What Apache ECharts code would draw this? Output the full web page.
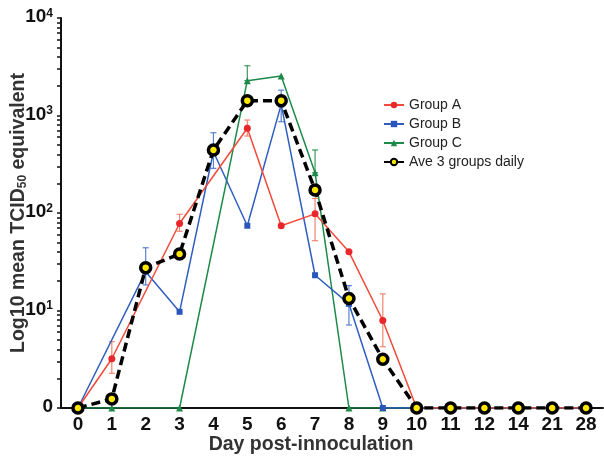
<!DOCTYPE html>
<html><head><meta charset="utf-8">
<script src="https://cdn.jsdelivr.net/npm/echarts@6/dist/echarts.min.js"></script>
<style>html,body{margin:0;padding:0;background:#fff}#c{width:604px;height:464px}</style>
</head><body><div id="c"></div>
<script>
// ---- data ----
const days = ['0','1','2','3','4','5','6','7','8','9','10','11','12','14','21','28'];
const groupA  = [0, 3.2, null, 78, null, 740, 74, 98, 40, 7.9, 0, 0, 0, 0, 0, 0];
const groupB  = [0, null, 25, 9.7, 425, 74, 1300, 23, 11.7, 0, 0, 0, 0, 0, 0, 0];
const groupC  = [0, 0, null, 0, null, 2275, 2540, 259, 0, 0, 0, 0, 0, 0, 0, 0];
const average = [0, 1.24, 27.5, 38, 443, 1420, 1420, 172, 13.3, 3.16, 0, 0, 0, 0, 0, 0];
// error bars: [day index, low, high]
const errA = [[1, 2.27, 4.79], [3, 65, 97], [5, 616, 899], [7, 52, 141], [9, 4.25, 14.8]];
const errB = [[2, 18.3, 44], [4, 287, 666], [6, 864, 1820], [8, 7.1, 18]];
const errC = [[5, 2275, 3240], [7, 259, 443]];
const yLabelValues = [1, 10, 100, 1000, 10000];
const legendNames = ['Group A', 'Group B', 'Group C', 'Ave 3 groups daily'];

// zero is drawn at the bottom of the log axis (10^0), labelled "0"
const toAxis = v => (v === null ? null : (v === 0 ? 1 : v));
const minorTicks = [];
for (let k = 0; k < 4; k++) for (let m = 1; m < 10; m++) minorTicks.push(m * Math.pow(10, k));
minorTicks.push(10000);

const SANS = '"Liberation Sans", Arial, sans-serif';

function errSeries(data, color) {
  return {
    type: 'custom', silent: true, z: 1,
    data: data,
    encode: { x: 0, y: [1, 2] },
    renderItem: function (params, api) {
      const x = api.value(0);
      const lo = api.coord([x, api.value(1)]);
      const hi = api.coord([x, api.value(2)]);
      const w = 3;
      const st = { stroke: color, lineWidth: 1.2 };
      return { type: 'group', children: [
        { type: 'line', shape: { x1: lo[0], y1: lo[1], x2: hi[0], y2: hi[1] }, style: st },
        { type: 'line', shape: { x1: hi[0] - w, y1: hi[1], x2: hi[0] + w, y2: hi[1] }, style: st },
        { type: 'line', shape: { x1: lo[0] - w, y1: lo[1], x2: lo[0] + w, y2: lo[1] }, style: st }
      ]};
    }
  };
}

const chart = echarts.init(document.getElementById('c'));
chart.setOption({
  backgroundColor: '#fff',
  animation: false,
  grid: { left: 61, right: 1, top: 18, bottom: 56, containLabel: false, outerBoundsMode: 'none' },
  legend: {
    data: legendNames, orient: 'vertical', left: 378, top: 93,
    itemWidth: 20, itemHeight: 8, itemGap: 5,
    textStyle: { fontSize: 14, color: '#222', fontFamily: SANS }
  },
  xAxis: {
    type: 'category', data: days, boundaryGap: true,
    axisLine: { lineStyle: { color: '#111', width: 2 } },
    axisTick: { alignWithLabel: true, length: 4, lineStyle: { color: '#111', width: 1.5 } },
    axisLabel: { fontSize: 19, fontWeight: 'bold', fontFamily: SANS, color: '#111', margin: 7, interval: 0 },
    splitLine: { show: false }
  },
  yAxis: {
    type: 'log', logBase: 10, min: 1, max: 10000,
    name: 'Log10 mean TCID{sub|50} equivalent',
    nameLocation: 'middle', nameGap: 32, nameRotate: 90, nameMoveOverlap: false,
    nameTextStyle: { fontSize: 19.5, fontWeight: 'bold', color: '#333', fontFamily: SANS,
      rich: { sub: { fontSize: 12, fontWeight: 'bold', color: '#333', fontFamily: SANS, verticalAlign: 'bottom', lineHeight: 10 } } },
    axisLine: { show: true, lineStyle: { color: '#111', width: 2 } },
    axisTick: { show: true, length: 4, customValues: minorTicks, lineStyle: { color: '#111', width: 1.5 } },
    axisLabel: {
      customValues: yLabelValues, margin: 8,
      formatter: function (v) {
        if (v <= 1) return '{n|0}';
        return '{n|10}{s|' + Math.round(Math.log10(v)) + '}';
      },
      rich: {
        n: { fontSize: 19, fontWeight: 'bold', fontFamily: SANS, color: '#111', verticalAlign: 'top', lineHeight: 21 },
        s: { fontSize: 12, fontWeight: 'bold', fontFamily: SANS, color: '#111', verticalAlign: 'top', lineHeight: 12 }
      }
    },
    splitLine: { show: false }
  },
  graphic: [{
    type: 'text', x: 311, y: 445,
    style: { text: 'Day post-innoculation', fontSize: 19.5, fontWeight: 'bold', fontFamily: SANS, fill: '#333', align: 'center', verticalAlign: 'middle' }
  }],
  series: [
    errSeries(errC, '#3c9a5c'),
    errSeries(errB, '#5a80d2'),
    errSeries(errA, '#f2856e'),
    { name: 'Group C', type: 'line', data: groupC.map(toAxis), connectNulls: true, z: 2,
      symbol: 'triangle', symbolSize: 7, showAllSymbol: true,
      itemStyle: { color: '#1e8a4a' }, lineStyle: { color: '#1e8a4a', width: 1.5 } },
    { name: 'Group B', type: 'line', data: groupB.map(toAxis), connectNulls: true, z: 3,
      symbol: 'rect', symbolSize: 6, showAllSymbol: true,
      itemStyle: { color: '#2a56bc' }, lineStyle: { color: '#2f5ec0', width: 1.5 } },
    { name: 'Group A', type: 'line', data: groupA.map(toAxis), connectNulls: true, z: 4,
      symbol: 'circle', symbolSize: 7, showAllSymbol: true,
      itemStyle: { color: '#e8262c' }, lineStyle: { color: '#f24a3a', width: 1.5 } },
    { name: 'Ave 3 groups daily', type: 'line', data: average.map(toAxis), z: 5,
      symbol: 'circle', symbolSize: 10, showAllSymbol: true,
      itemStyle: { color: '#ffe800', borderColor: '#000', borderWidth: 3.5 },
      lineStyle: { color: '#000', width: 3.5, type: [9, 5] } }
  ]
});
</script>
</body></html>
